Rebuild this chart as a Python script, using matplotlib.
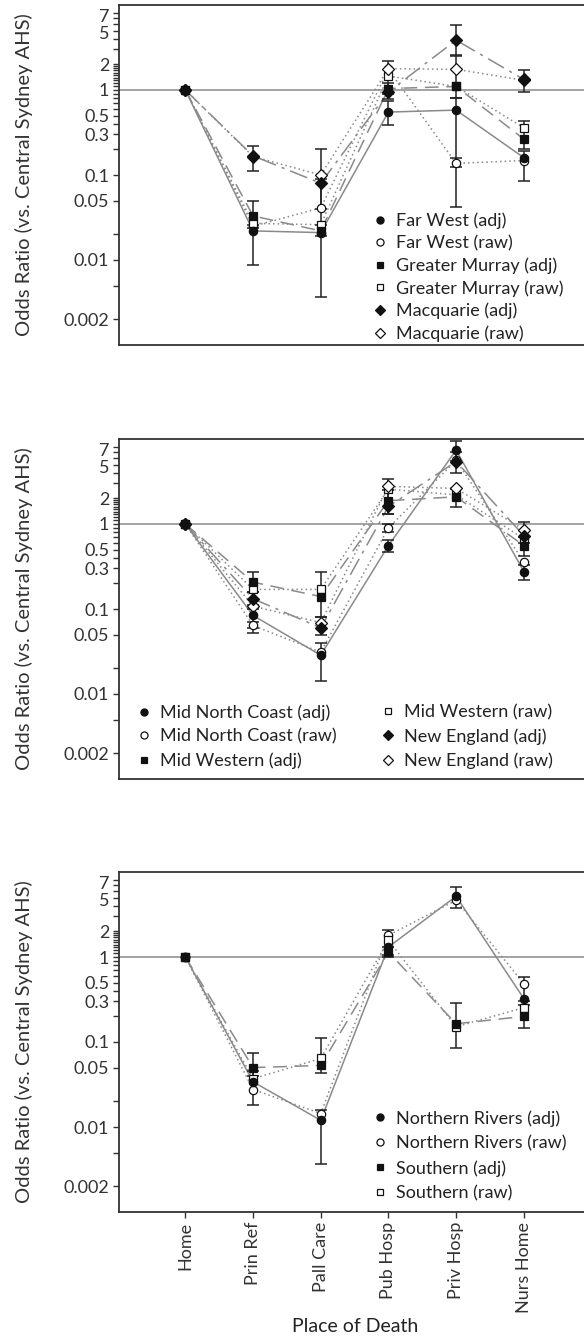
import numpy as np
import matplotlib
matplotlib.use('Agg')
import matplotlib.pyplot as plt
from matplotlib.ticker import FixedLocator, FixedFormatter
from matplotlib.transforms import ScaledTranslation

plt.rcParams['font.family'] = ['Lato', 'DejaVu Sans']

places = ['Home', 'Prin Ref', 'Pall Care', 'Pub Hosp', 'Priv Hosp', 'Nurs Home']
nan = np.nan

# ---- panel 1 ----
fw_adj = [1, 0.022, 0.021, 0.55, 0.58, 0.16]
fw_adj_lo = [nan, 0.0088, 0.0037, 0.385, 0.042, 0.086]
fw_adj_hi = [nan, 0.026, 0.09, 0.75, 0.81, 0.19]
fw_raw = [1, 0.025, 0.041, 1.75, 0.137, 0.148]
fw_raw_lo = [nan, nan, nan, nan, 0.125, nan]
fw_raw_hi = [nan, nan, nan, nan, 0.16, nan]
gm_adj = [1, 0.033, 0.022, 1.04, 1.1, 0.264]
gm_adj_lo = [nan, 0.024, 0.019, 0.9, 0.81, 0.2]
gm_adj_hi = [nan, 0.05, 0.026, 1.2, 2.5, 0.43]
gm_raw = [1, 0.027, 0.026, 1.46, 1.1, 0.36]
mq_adj = [1, 0.168, 0.08, 0.95, 3.86, 1.33]
mq_adj_lo = [nan, 0.112, 0.04, 0.78, 2.6, 0.95]
mq_adj_hi = [nan, 0.22, 0.2, 2.19, 5.8, 1.7]
mq_raw = [1, 0.165, 0.1, 1.78, 1.75, 1.3]

# ---- panel 2 ----
mnc_adj = [1, 0.084, 0.0286, 0.557, 7.4, 0.276]
mnc_adj_lo = [nan, 0.06, 0.0142, 0.47, 5.5, 0.22]
mnc_adj_hi = [nan, 0.1, 0.04, 0.65, 9.5, 0.33]
mnc_raw = [1, 0.064, 0.031, 0.90, 5.6, 0.36]
mnc_raw_lo = [nan, 0.052, nan, 0.8, nan, nan]
mnc_raw_hi = [nan, 0.07, nan, 1.0, nan, nan]
mw_adj = [1, 0.207, 0.14, 1.88, 2.09, 0.557]
mw_adj_lo = [nan, 0.16, 0.081, 1.31, 1.57, 0.42]
mw_adj_hi = [nan, 0.276, 0.276, 2.5, 2.6, 0.7]
mw_raw = [1, 0.17, 0.17, 2.57, 2.2, 0.67]
ne_adj = [1, 0.132, 0.06, 1.61, 5.43, 0.73]
ne_adj_lo = [nan, 0.11, 0.05, 1.3, 4.0, 0.6]
ne_adj_hi = [nan, 0.16, 0.081, 3.37, 7.0, 1.05]
ne_raw = [1, 0.108, 0.069, 2.77, 2.62, 0.86]

# ---- panel 3 ----
nr_adj = [1, 0.034, 0.012, 1.31, 5.18, 0.324]
nr_adj_lo = [nan, 0.018, 0.0037, 1.05, 3.8, 0.30]
nr_adj_hi = [nan, 0.045, 0.016, 2.06, 6.65, 0.58]
nr_raw = [1, 0.0276, 0.0144, 1.8, 4.65, 0.486]
so_adj = [1, 0.05, 0.053, 1.14, 0.164, 0.2]
so_adj_lo = [nan, 0.04, 0.043, 1.0, 0.085, 0.148]
so_adj_hi = [nan, 0.074, 0.11, 1.3, 0.29, 0.27]
so_raw = [1, 0.037, 0.064, 1.57, 0.151, 0.254]

ytick_vals = [0.002, 0.005, 0.01, 0.02, 0.05, 0.1, 0.2, 0.3, 0.4, 0.5, 0.6, 0.7,
              0.8, 0.9, 1, 1.1, 1.2, 1.3, 1.4, 1.5, 1.6, 1.7, 1.8, 1.9, 2, 3, 4, 5, 6, 7, 8]
ytick_show = {0.002: '0.002', 0.01: '0.01', 0.05: '0.05', 0.1: '0.1', 0.3: '0.3',
              0.5: '0.5', 1: '1', 2: '2', 5: '5', 7: '7'}

gray = '#8a8a8a'
solid = '-'
dash1 = (0, (9, 5))
dash2 = (0, (12, 4, 2, 4))
dots = (0, (1, 2))

x = np.arange(len(places))


def series(ax, y, lo, hi, marker, filled, ls, label):
    y = np.array(y, dtype=float)
    ax.plot(x, y, color=gray, lw=1.1, ls=ls, zorder=2)
    if lo is not None:
        lo = np.array(lo, dtype=float)
        hi = np.array(hi, dtype=float)
        ok = ~np.isnan(lo)
        ax.errorbar(x[ok], y[ok], yerr=[y[ok] - lo[ok], hi[ok] - y[ok]], fmt='none',
                    ecolor='#222222', elinewidth=1.1, capsize=4, capthick=1.1, zorder=3)
    ms = 6 if marker != 's' else 5.5
    ax.plot(x, y, ls='none', marker=marker, ms=ms,
            mfc='#111111' if filled else 'white', mec='#111111', mew=0.9,
            zorder=5 if filled else 4, label=label)


def style(ax):
    ax.set_yscale('log')
    ax.set_ylim(0.001, 10)
    ax.set_xlim(-0.98, 6)
    ax.axhline(1, color=gray, lw=1.1, zorder=1)
    ax.yaxis.set_major_locator(FixedLocator(ytick_vals))
    ax.yaxis.set_major_formatter(FixedFormatter([ytick_show.get(round(v, 3), '') for v in ytick_vals]))
    ax.yaxis.set_minor_locator(FixedLocator([]))
    ax.set_xticks(x)
    ax.tick_params(axis='both', direction='out', length=4, width=1, color='#333333',
                   labelsize=13, labelcolor='#333333', pad=3)
    ax.set_ylabel('Odds Ratio (vs. Central Sydney AHS)', fontsize=14.5, color='#333333')
    ax.yaxis.set_label_coords((33 - 119) / 472.5, 0.5)
    for s in ['left', 'bottom', 'top']:
        ax.spines[s].set_color('#333333')
        ax.spines[s].set_linewidth(1.3)
    ax.spines['right'].set_visible(False)
    # the 7 and 5 labels sit very close; nudge them apart a little
    for val, tick in zip(ytick_vals, ax.yaxis.get_major_ticks()):
        if val in (7, 5):
            dy = 1.8 if val == 7 else -1.2
            tick.label1.set_transform(tick.label1.get_transform()
                                      + ScaledTranslation(0, dy / 72, fig.dpi_scale_trans))


fig = plt.figure(figsize=(5.84, 13.43), dpi=100)
W = 472.5 / 584
H = 340 / 1343
ax1 = fig.add_axes([119 / 584, 1 - 345 / 1343, W, H])
ax2 = fig.add_axes([119 / 584, 1 - 779 / 1343, W, H])
ax3 = fig.add_axes([119 / 584, 1 - 1212 / 1343, W, H])

series(ax1, fw_adj, fw_adj_lo, fw_adj_hi, 'o', True, solid, 'Far West (adj)')
series(ax1, fw_raw, fw_raw_lo, fw_raw_hi, 'o', False, dots, 'Far West (raw)')
series(ax1, gm_adj, gm_adj_lo, gm_adj_hi, 's', True, dash1, 'Greater Murray (adj)')
series(ax1, gm_raw, None, None, 's', False, dots, 'Greater Murray (raw)')
series(ax1, mq_adj, mq_adj_lo, mq_adj_hi, 'D', True, dash2, 'Macquarie (adj)')
series(ax1, mq_raw, None, None, 'D', False, dots, 'Macquarie (raw)')

series(ax2, mnc_adj, mnc_adj_lo, mnc_adj_hi, 'o', True, solid, 'Mid North Coast (adj)')
series(ax2, mnc_raw, mnc_raw_lo, mnc_raw_hi, 'o', False, dots, 'Mid North Coast (raw)')
series(ax2, mw_adj, mw_adj_lo, mw_adj_hi, 's', True, dash1, 'Mid Western (adj)')
series(ax2, mw_raw, None, None, 's', False, dots, 'Mid Western (raw)')
series(ax2, ne_adj, ne_adj_lo, ne_adj_hi, 'D', True, dash2, 'New England (adj)')
series(ax2, ne_raw, None, None, 'D', False, dots, 'New England (raw)')

series(ax3, nr_adj, nr_adj_lo, nr_adj_hi, 'o', True, solid, 'Northern Rivers (adj)')
series(ax3, nr_raw, None, None, 'o', False, dots, 'Northern Rivers (raw)')
series(ax3, so_adj, so_adj_lo, so_adj_hi, 's', True, dash1, 'Southern (adj)')
series(ax3, so_raw, None, None, 's', False, dots, 'Southern (raw)')

for ax in (ax1, ax2, ax3):
    style(ax)
for ax in (ax1, ax2):
    ax.tick_params(axis='x', length=0, labelbottom=False)
ax3.set_xticklabels(places, rotation=90)
ax3.set_xlabel('Place of Death', fontsize=14, color='#222222', labelpad=4)

leg_kw = dict(frameon=False, fontsize=13, handlelength=0.8, handletextpad=0.5,
              borderpad=0, borderaxespad=0, markerscale=0.85, labelcolor='#222222')

ax1.legend(loc='upper left', bbox_to_anchor=(0.5376, 0.39), labelspacing=0.34, **leg_kw)

h, l = ax2.get_legend_handles_labels()
lg = ax2.legend(h[:3], l[:3], loc='upper left', bbox_to_anchor=(0.038, 0.219),
                labelspacing=0.42, **leg_kw)
ax2.add_artist(lg)
ax2.legend(h[3:], l[3:], loc='upper left', bbox_to_anchor=((381 - 119) / 472.5, 0.219),
           labelspacing=0.42, **leg_kw)

ax3.legend(loc='upper left', bbox_to_anchor=(0.5376, 0.30), labelspacing=0.48, **leg_kw)

fig.savefig('out.png', dpi=100)
